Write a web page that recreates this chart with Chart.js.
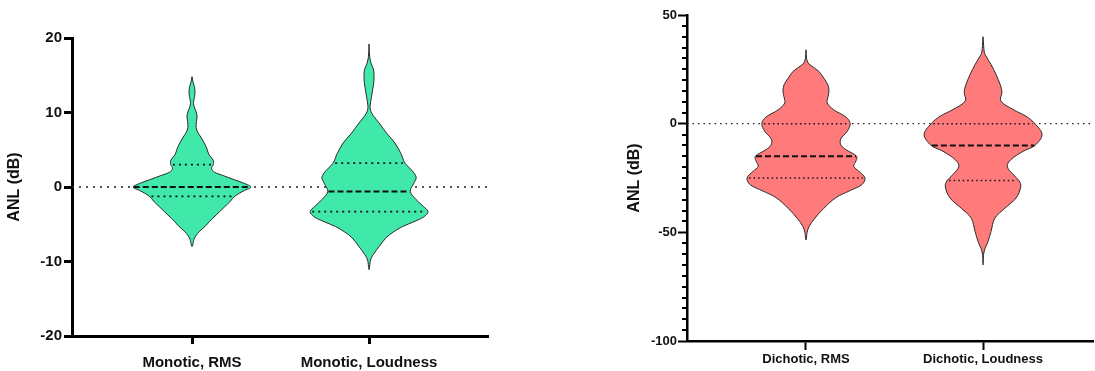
<!DOCTYPE html>
<html><head><meta charset="utf-8">
<script src="https://cdn.jsdelivr.net/npm/chart.js@4.4.1/dist/chart.umd.min.js"></script>
<style>
html,body{margin:0;padding:0;background:#fff;width:1095px;height:371px;overflow:hidden}
#left{position:absolute;left:0;top:0}
#right{position:absolute;left:545px;top:0}
</style></head><body>
<canvas id="left" width="545" height="371"></canvas>
<canvas id="right" width="550" height="371"></canvas>
<script>
// ---------------- DATA ----------------
const monoticCategories = ['Monotic, RMS', 'Monotic, Loudness'];
const dichoticCategories = ['Dichotic, RMS', 'Dichotic, Loudness'];
const monoticTicks = [-20, -10, 0, 10, 20];
const dichoticTicks = [-100, -50, 0, 50];
const yTitle = 'ANL (dB)';

// ANL levels (dB, top to bottom) and relative density (violin width) at each level
const monoRmsLevels = [14.8, 14.0, 13.3, 12.5, 11.8, 11.2, 10.5, 9.6, 8.8, 8.0, 7.3, 6.7, 6.0, 5.4, 4.7, 4.2, 3.6, 3.0, 2.5, 2.0, 1.5, 1.0, 0.5, 0, -0.5, -1.2, -2.0, -2.6, -3.3, -3.9, -4.6, -5.3, -6.0, -6.5, -7.0, -8.0];
const monoRmsDensity = [0, 0.02, 0.045, 0.05, 0.035, 0.025, 0.05, 0.085, 0.075, 0.07, 0.1, 0.15, 0.2, 0.24, 0.27, 0.3, 0.36, 0.36, 0.33, 0.38, 0.54, 0.71, 0.88, 1, 0.88, 0.73, 0.64, 0.56, 0.47, 0.39, 0.3, 0.22, 0.12, 0.07, 0.035, 0];

const monoLoudLevels = [19.2, 17.5, 16.6, 15.8, 15.0, 14.0, 13.0, 12.0, 11.0, 10.3, 9.6, 8.6, 7.2, 5.9, 4.5, 3.2, 2.2, 1.3, 0.5, -0.6, -1.7, -2.6, -3.3, -4.0, -4.6, -5.3, -6.0, -6.8, -8.0, -9.1, -9.8, -11.1];
const monoLoudDensity = [0, 0.01, 0.035, 0.075, 0.085, 0.08, 0.06, 0.04, 0.02, 0.025, 0.07, 0.17, 0.3, 0.44, 0.54, 0.61, 0.73, 0.8, 0.76, 0.7, 0.8, 0.92, 1, 0.93, 0.78, 0.57, 0.42, 0.29, 0.17, 0.07, 0.025, 0];

const dichRmsLevels = [34, 30, 28, 27, 24, 21, 18, 15, 12, 9.5, 6.4, 3, 0, -3.5, -7, -9.7, -12, -15, -17, -19.6, -22, -25, -28, -31, -34, -39, -43.5, -47.4, -50, -53.5];
const dichRmsDensity = [0, 0.01, 0.035, 0.07, 0.22, 0.3, 0.37, 0.39, 0.37, 0.36, 0.47, 0.68, 0.75, 0.7, 0.59, 0.59, 0.68, 0.86, 0.85, 0.81, 0.9, 1, 0.95, 0.73, 0.51, 0.3, 0.15, 0.05, 0.02, 0];

const dichLoudLevels = [40, 36, 33, 31.8, 27.2, 22.6, 18, 14.5, 10.5, 6.5, 3.4, 0, -5, -10, -12.7, -16.6, -19.6, -23.4, -26.2, -29, -34.2, -38.9, -43.5, -49.6, -54.2, -57.3, -60, -65];
const dichLoudDensity = [0, 0.01, 0.02, 0.035, 0.135, 0.22, 0.29, 0.32, 0.3, 0.51, 0.73, 0.88, 1, 0.88, 0.68, 0.47, 0.41, 0.51, 0.61, 0.64, 0.56, 0.37, 0.2, 0.135, 0.085, 0.035, 0.01, 0];

// Quartiles: [Q1, median, Q3]
const monoRmsStats = [-1.25, 0, 3.0];
const monoLoudStats = [-3.3, -0.6, 3.2];
const dichRmsStats = [-25, -15, 0];
const dichLoudStats = [-26.2, -10, 0];

// ---------------- RENDERING ----------------
const FAMILY = '"Liberation Sans", Arial, Helvetica, sans-serif';
const HALF_W = 0.333; // max violin half-width in category units
const GREEN = 'rgb(64,233,170)';
const RED = 'rgb(255,122,122)';

function violinPoints(center, levels, dens) {
  const pts = [];
  for (let i = 0; i < levels.length; i++) pts.push({x: center + dens[i] * HALF_W, y: levels[i]});
  for (let i = levels.length - 2; i >= 0; i--) pts.push({x: center - dens[i] * HALF_W, y: levels[i]});
  return pts;
}
function densityAt(levels, dens, v) {
  for (let i = 0; i < levels.length - 1; i++) {
    const a = levels[i], b = levels[i + 1];
    if ((v <= a && v >= b)) {
      const t = (a - v) / (a - b || 1);
      return dens[i] + t * (dens[i + 1] - dens[i]);
    }
  }
  return 0;
}
function statLine(center, levels, dens, v, dash, width, inset) {
  const w = densityAt(levels, dens, v) * HALF_W - inset;
  return {type: 'line', data: [{x: center - w, y: v}, {x: center + w, y: v}],
    borderColor: '#111', borderWidth: width, borderDash: dash, pointRadius: 0, fill: false, order: 0, tension: 0};
}
function violinDataset(center, levels, dens, color) {
  return {type: 'line', data: violinPoints(center, levels, dens), backgroundColor: color,
    borderColor: '#2a2a2a', borderWidth: 1, pointRadius: 0, fill: 'shape', tension: 0.35, order: 1};
}

function buildChart(canvasId, cats, ticks, violins, color, geo) {
  const datasets = [];
  // zero reference line (behind violins)
  datasets.push({type: 'line', data: [{x: geo.xmin, y: 0}, {x: geo.xmax, y: 0}], borderColor: '#222',
    borderWidth: geo.zeroW, borderDash: geo.zeroDash, pointRadius: 0, fill: false, order: 3});
  violins.forEach((v, i) => {
    const c = i + 1;
    datasets.push(violinDataset(c, v.levels, v.dens, color));
    datasets.push(statLine(c, v.levels, v.dens, v.stats[1], geo.medDash, geo.medW, 0.004));
    datasets.push(statLine(c, v.levels, v.dens, v.stats[0], geo.qDash, geo.qW, 0.012));
    datasets.push(statLine(c, v.levels, v.dens, v.stats[2], geo.qDash, geo.qW, 0.012));
  });
  const tickFont = {family: FAMILY, size: geo.tickSize, weight: 'bold'};
  const minorTicks = {
    id: 'minorTicks',
    afterDraw(chart) {
      if (!geo.minorStep) return;
      const s = chart.scales.y, ctx = chart.ctx;
      ctx.save(); ctx.strokeStyle = '#000'; ctx.lineWidth = geo.tickW;
      ctx.beginPath();
      s.ticks.forEach(t => {
        if (ticks.includes(t.value)) return;
        const y = Math.round(s.getPixelForValue(t.value));
        ctx.moveTo(s.right - geo.minorLen, y); ctx.lineTo(s.right, y);
      });
      ctx.stroke(); ctx.restore();
    }
  };
  return new Chart(document.getElementById(canvasId), {
    type: 'line',
    data: {datasets},
    plugins: [minorTicks],
    options: {
      responsive: false, animation: false, devicePixelRatio: 1,
      layout: {padding: geo.padding},
      plugins: {legend: {display: false}, tooltip: {enabled: false}},
      scales: {
        x: {
          type: 'linear', min: geo.xmin, max: geo.xmax,
          afterBuildTicks: s => { s.ticks = cats.map((c, i) => ({value: i + 1})); },
          ticks: {callback: v => cats[Math.round(v) - 1] ?? '', font: {family: FAMILY, size: geo.catSize, weight: 'bold'},
            color: '#111', padding: geo.catPad, maxRotation: 0, autoSkip: false},
          grid: {drawOnChartArea: false, tickLength: geo.tickLen, tickWidth: geo.tickW, tickColor: '#000'},
          border: {display: true, width: geo.axisW, color: '#000'},
          afterFit: s => { s.height = geo.xH; }
        },
        y: {
          type: 'linear', min: ticks[0], max: ticks[ticks.length - 1],
          afterBuildTicks: s => {
            const arr = [];
            const step = geo.minorStep || (ticks[1] - ticks[0]);
            for (let v = ticks[0]; v <= ticks[ticks.length - 1] + 1e-9; v += step) arr.push({value: v});
            s.ticks = arr;
          },
          ticks: {callback: v => ticks.includes(v) ? String(v) : '', font: tickFont, color: '#111', padding: geo.yPad, autoSkip: false},
          grid: {drawOnChartArea: false, tickLength: geo.tickLen, tickWidth: geo.tickW,
            tickColor: c => (c.tick && ticks.includes(c.tick.value)) ? '#000' : 'rgba(0,0,0,0)'},
          border: {display: true, width: geo.axisW, color: '#000'},
          title: {display: true, text: yTitle, font: {family: FAMILY, size: 16, weight: 'bold'}, color: '#111', padding: {top: 4, bottom: 4}},
          afterFit: s => { s.width = geo.yW; }
        }
      }
    }
  });
}

buildChart('left', monoticCategories, monoticTicks, [
  {levels: monoRmsLevels, dens: monoRmsDensity, stats: monoRmsStats},
  {levels: monoLoudLevels, dens: monoLoudDensity, stats: monoLoudStats}
], GREEN, {
  xmin: 0.322, xmax: 2.672, padding: {left: 1, top: 38, right: 57, bottom: 0}, yW: 71, xH: 35,
  tickSize: 15, catSize: 15, catPad: 10, yPad: 2, tickLen: 8, tickW: 3, axisW: 3,
  zeroW: 1.5, zeroDash: [2, 5], medDash: [6, 3], medW: 2, qDash: [2, 4], qW: 1.8, minorStep: 0, minorLen: 0
});

buildChart('right', dichoticCategories, dichoticTicks, [
  {levels: dichRmsLevels, dens: dichRmsDensity, stats: dichRmsStats},
  {levels: dichLoudLevels, dens: dichLoudDensity, stats: dichLoudStats}
], RED, {
  xmin: 0.328, xmax: 2.621, padding: {left: 76, top: 15, right: 2, bottom: 0}, yW: 66, xH: 30,
  tickSize: 13, catSize: 13, catPad: 2, yPad: 1, tickLen: 9, tickW: 2, axisW: 2.5,
  zeroW: 1.3, zeroDash: [1.5, 4], medDash: [6, 3], medW: 2, qDash: [1.5, 3], qW: 1.5, minorStep: 5, minorLen: 5
});
</script>
</body></html>
